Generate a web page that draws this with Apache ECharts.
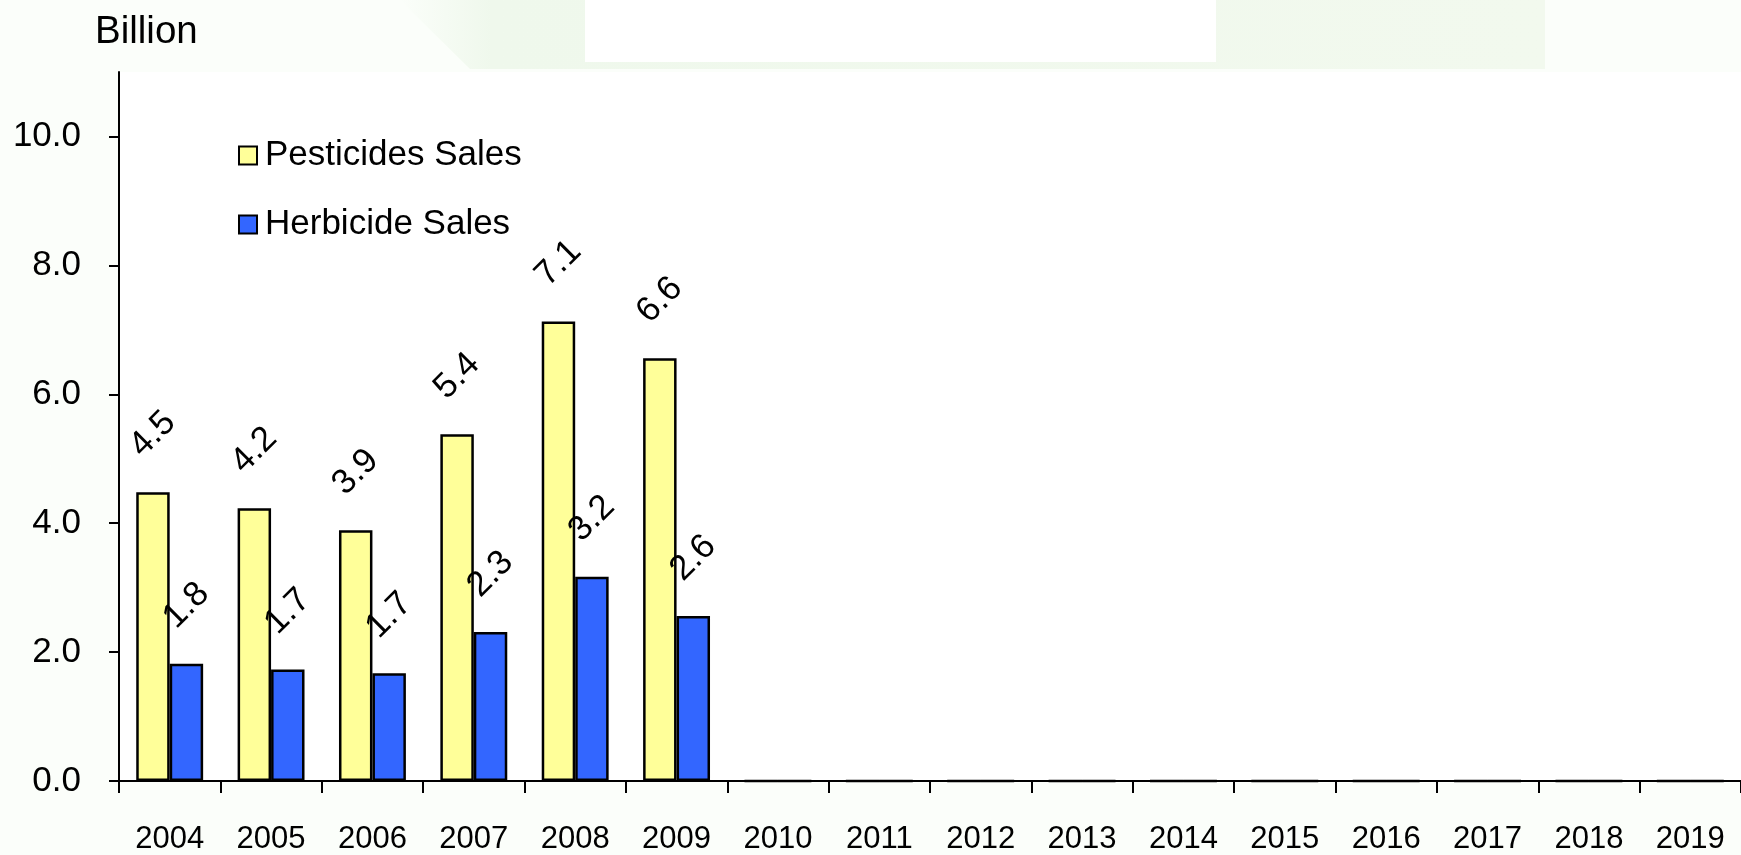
<!DOCTYPE html>
<html lang="en">
<head>
    <meta charset="UTF-8">
    <title>Pesticides and Herbicide Sales</title>
    <script src="https://cdn.jsdelivr.net/npm/echarts@6/dist/echarts.min.js"></script>
    <style>
        *{
            margin:0;
            padding:0;
        }
        body {
            background: #fbfefa;
        }
        #main {
            width: 1741px;
            height: 855px;
        }
    </style>
</head>
<body>
<div id="main"></div>
<script>

    var years = ['2004','2005','2006','2007','2008','2009','2010','2011','2012','2013','2014','2015','2016','2017','2018','2019'];
    var pesticides = [4.48, 4.23, 3.89, 5.38, 7.13, 6.56, 0, 0, 0, 0, 0, 0, 0, 0, 0, 0];
    var herbicide = [1.82, 1.73, 1.67, 2.31, 3.17, 2.56, 0, 0, 0, 0, 0, 0, 0, 0, 0, 0];
    var yTicks = [0, 2, 4, 6, 8, 10];

    window.onload = function(){

        var font = 'Liberation Sans, Arial, sans-serif';
        var chart = echarts.init(document.getElementById('main'));

        // value labels, tilted up to the right
        var barLabel = {
            show: true,
            position: 'top',
            distance: 58,
            rotate: 45,
            align: 'center',
            verticalAlign: 'middle',
            fontSize: 35,
            fontFamily: font,
            color: '#000',
            formatter: function(p){
                return p.value > 0 ? p.value.toFixed(1) : '';
            }
        };

        var option = {
            backgroundColor: '#fbfefa',
            animation: false,
            title: {
                text: 'Billion',
                left: 90,
                top: 8,
                textStyle: {
                    fontSize: 38.5,
                    fontWeight: 'normal',
                    fontFamily: font,
                    color: '#000'
                }
            },
            // faint background bands at the top of the slide
            graphic: [
                {
                    type: 'polygon', z: -1,
                    shape: {points: [[400, 0], [1545, 0], [1545, 69], [470, 69]]},
                    style: {
                        fill: new echarts.graphic.LinearGradient(0, 0, 1, 0, [
                            {offset: 0, color: '#fbfefa'},
                            {offset: 0.08, color: '#eff8ec'},
                            {offset: 1, color: '#f2f9ee'}
                        ])
                    }
                },
                {type: 'rect', z: -1, shape: {x: 585, y: 0, width: 631, height: 62}, style: {fill: '#ffffff'}}
            ],
            legend: {
                orient: 'vertical',
                left: 233,
                top: 133,
                itemWidth: 18,
                itemHeight: 18,
                itemGap: 34,
                icon: 'rect',
                itemStyle: {
                    borderColor: '#000',
                    borderWidth: 2
                },
                textStyle: {
                    fontSize: 35,
                    fontFamily: font,
                    color: '#000',
                    padding: [0, 0, 0, 3]
                },
                data: ['Pesticides Sales', 'Herbicide Sales']
            },
            grid: {
                left: 119,
                top: 72,
                width: 1628,
                height: 715,
                show: true,
                backgroundColor: '#ffffff',
                borderWidth: 0
            },
            xAxis: {
                type: 'category',
                data: years,
                axisLine: {lineStyle: {color: '#000', width: 2}},
                axisTick: {show: true, length: 12, lineStyle: {color: '#000', width: 2}},
                axisLabel: {
                    margin: 43,
                    fontSize: 31,
                    fontFamily: font,
                    color: '#000'
                }
            },
            yAxis: {
                type: 'value',
                min: 0,
                max: 11,
                interval: 2,
                splitLine: {show: false},
                axisLine: {show: true, lineStyle: {color: '#000', width: 2}},
                axisTick: {show: true, length: 10, customValues: yTicks, lineStyle: {color: '#000', width: 2}},
                axisLabel: {
                    margin: 38,
                    fontSize: 35,
                    fontFamily: font,
                    color: '#000',
                    customValues: yTicks,
                    formatter: function(v){
                        return v.toFixed(1);
                    }
                }
            },
            series: [
                {
                    name: 'Pesticides Sales',
                    type: 'bar',
                    barGap: '0%',
                    barCategoryGap: '34%',
                    itemStyle: {color: '#ffff99', borderColor: '#000', borderWidth: 2.5},
                    label: barLabel,
                    data: pesticides
                },
                {
                    name: 'Herbicide Sales',
                    type: 'bar',
                    itemStyle: {color: '#3366ff', borderColor: '#000', borderWidth: 2.5},
                    label: barLabel,
                    data: herbicide
                }
            ]
        };

        chart.setOption(option);
    };

</script>
</body>
</html>
